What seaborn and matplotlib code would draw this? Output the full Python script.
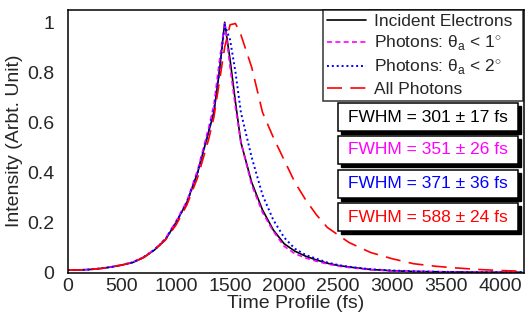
import matplotlib
matplotlib.use("Agg")
import matplotlib.pyplot as plt
import seaborn as sns
from matplotlib.patches import Rectangle
from matplotlib.ticker import MultipleLocator, FuncFormatter

# values
time_fs = [0, 100, 200, 300, 400, 500, 600, 700, 800, 900, 1000, 1100, 1200, 1300, 1350,
           1400, 1450, 1500, 1550, 1600, 1700, 1800, 1900, 2000, 2100, 2200, 2300, 2400,
           2500, 2600, 2800, 3000, 3200, 3400, 3600, 3800, 4000, 4200]

electrons = [0.010, 0.010, 0.012, 0.016, 0.022, 0.030, 0.040, 0.060, 0.090, 0.130, 0.200, 0.280,
             0.400, 0.560, 0.640, 0.800, 1.000, 0.850, 0.680, 0.520, 0.360, 0.250, 0.170, 0.115,
             0.085, 0.065, 0.050, 0.037, 0.028, 0.022, 0.012, 0.007, 0.004, 0.003, 0.002, 0.001,
             0.001, 0.001]
photons_1deg = [0.010, 0.010, 0.012, 0.016, 0.022, 0.030, 0.042, 0.062, 0.092, 0.135, 0.205, 0.285,
                0.410, 0.575, 0.670, 0.840, 1.000, 0.820, 0.660, 0.520, 0.350, 0.240, 0.165, 0.105,
                0.075, 0.058, 0.045, 0.034, 0.026, 0.020, 0.011, 0.006, 0.004, 0.003, 0.002, 0.001,
                0.001, 0.001]
photons_2deg = [0.010, 0.010, 0.012, 0.016, 0.022, 0.030, 0.041, 0.061, 0.091, 0.132, 0.200, 0.280,
                0.400, 0.560, 0.650, 0.800, 0.990, 0.930, 0.800, 0.640, 0.460, 0.310, 0.210, 0.140,
                0.095, 0.070, 0.055, 0.040, 0.030, 0.023, 0.013, 0.008, 0.005, 0.003, 0.002, 0.001,
                0.001, 0.001]
all_photons = [0.010, 0.010, 0.012, 0.016, 0.022, 0.030, 0.040, 0.060, 0.090, 0.130, 0.190, 0.270,
               0.380, 0.530, 0.620, 0.760, 0.900, 0.990, 0.995, 0.950, 0.820, 0.640, 0.540, 0.450,
               0.360, 0.290, 0.230, 0.180, 0.150, 0.120, 0.080, 0.055, 0.035, 0.025, 0.018, 0.012,
               0.008, 0.005]

series_labels = ["Incident Electrons",
                 u"Photons: \u03b8$_{\\rm a}$ < 1$^{\\circ}$",
                 u"Photons: \u03b8$_{\\rm a}$ < 2$^{\\circ}$",
                 "All Photons"]
fwhm_texts = [u"FWHM = 301 \u00b1 17 fs", u"FWHM = 351 \u00b1 26 fs",
              u"FWHM = 371 \u00b1 36 fs", u"FWHM = 588 \u00b1 24 fs"]

sns.set_style("white")
plt.rcParams["font.family"] = ["Liberation Sans", "DejaVu Sans"]
plt.rcParams["mathtext.fontset"] = "custom"
plt.rcParams["mathtext.rm"] = "Liberation Sans"

W, H = 529, 316
fig = plt.figure(figsize=(W / 100, H / 100), dpi=100)


def fr(x0, y0, x1, y1):
    # pixel box -> figure fraction (left, bottom, width, height)
    return (x0 / W, 1 - y1 / H, (x1 - x0) / W, (y1 - y0) / H)


ax = fig.add_axes(fr(68, 9.5, 524, 272.5))

sns.lineplot(x=time_fs, y=electrons, ax=ax, color="black", lw=1.2, label=series_labels[0])
sns.lineplot(x=time_fs, y=photons_1deg, ax=ax, color="#ff00ff", lw=1.2,
             linestyle=(0, (3, 2)), label=series_labels[1])
sns.lineplot(x=time_fs, y=photons_2deg, ax=ax, color="#0000ff", lw=1.4,
             linestyle=(0, (1, 1.5)), label=series_labels[2])
sns.lineplot(x=time_fs, y=all_photons, ax=ax, color="#ff0000", lw=1.2,
             linestyle=(0, (9, 5)), label=series_labels[3])

ax.set_xlim(0, 4220)
ax.set_ylim(0, 1.051)
ax.xaxis.set_major_locator(MultipleLocator(500))
ax.xaxis.set_minor_locator(MultipleLocator(100))
ax.yaxis.set_major_locator(MultipleLocator(0.2))
ax.yaxis.set_minor_locator(MultipleLocator(0.05))
ax.yaxis.set_major_formatter(FuncFormatter(lambda v, p: "%g" % round(v, 2)))
ax.tick_params(which="both", direction="in", top=False, right=False, labelsize=14)
ax.tick_params(axis="x", pad=4)
ax.tick_params(axis="y", pad=10)
ax.tick_params(which="major", length=10, width=1)
ax.tick_params(which="minor", length=5, width=1)
for s in ax.spines.values():
    s.set_linewidth(1.1)
    s.set_color("black")

ax.set_xlabel("Time Profile (fs)", fontsize=14, labelpad=0)
ax.set_ylabel("Intensity (Arbt. Unit)", fontsize=14, labelpad=3)

leg = ax.legend(loc="upper left", bbox_to_anchor=fr(323, 10, 523, 99), mode="expand",
                bbox_transform=fig.transFigure, fontsize=12.5, frameon=True, fancybox=False,
                borderaxespad=0, borderpad=0.25, labelspacing=0.25, handlelength=2.2,
                handletextpad=0.5)
leg.get_frame().set_edgecolor("black")
leg.get_frame().set_linewidth(1.1)

box_tops = [103, 136, 170, 203]
box_colors = ["black", "#ff00ff", "#0000ff", "#ff0000"]
for top, txt, col in zip(box_tops, fwhm_texts, box_colors):
    fig.patches.append(Rectangle(fr(341, top + 3, 521, top + 31)[:2], (521 - 341) / W, 28 / H,
                                 transform=fig.transFigure, fc="black", ec="black", zorder=5))
    fig.patches.append(Rectangle(fr(338, top, 518, top + 28)[:2], (518 - 338) / W, 28 / H,
                                 transform=fig.transFigure, fc="white", ec="black", lw=1.1,
                                 zorder=6))
    fig.text((338 + 518) / 2 / W, 1 - (top + 14) / H, txt, color=col, fontsize=12.5,
             ha="center", va="center", zorder=7)

fig.savefig("out.png", dpi=100)
